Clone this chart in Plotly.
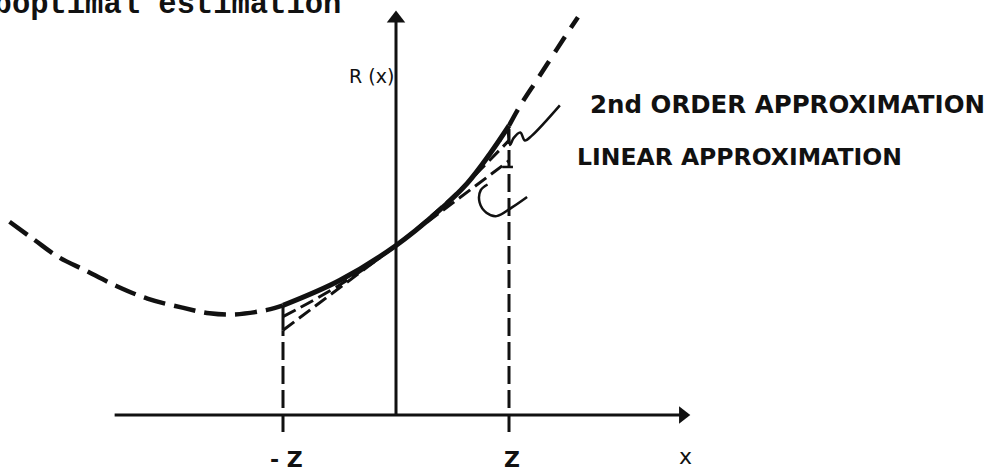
import plotly.graph_objects as go

# ---- data (x in units of Z, y in the same units) ----
Z = 1.0

# risk curve R(x), sampled along its length
risk_x = [-3.42, -3.20, -2.99, -2.75, -2.47, -2.20, -1.89, -1.65, -1.43, -1.14,
          -1.00, -0.50, 0.00, 0.36, 0.63, 0.83, 1.00, 1.10, 1.25, 1.38, 1.51, 1.61]
risk_y = [1.71, 1.55, 1.40, 1.28, 1.14, 1.03, 0.95, 0.90, 0.89, 0.93,
          0.97, 1.19, 1.50, 1.79, 2.05, 2.31, 2.56, 2.74, 2.97, 3.17, 3.37, 3.52]

# second order approximation about x = 0
second_x = [-1.0, -0.5, 0.0, 0.5, 1.0]
second_y = [0.87, 1.15, 1.50, 1.93, 2.43]

# linear approximation about x = 0
linear_x = [-1.0, 1.0]
linear_y = [0.75, 2.25]

# interval end labels
tick_positions = [-Z, Z]
tick_labels = ["- Z", "Z"]

# hand-drawn pointers from the labels to the curves
pointer_second_x = [0.92, 0.98, 1.01, 1.04, 1.10, 1.14, 1.20, 1.45]
pointer_second_y = [2.42, 2.53, 2.39, 2.45, 2.50, 2.43, 2.47, 2.74]
pointer_linear_x = [0.81, 0.75, 0.74, 0.80, 0.89, 1.03, 1.16]
pointer_linear_y = [2.04, 1.99, 1.88, 1.79, 1.76, 1.84, 1.93]

# ---- geometry / styling constants ----
W, H = 1002, 472
PX = 113.0                      # pixels per unit
X0_PX, Y0_PX = 396.0, 415.0     # pixel position of the origin
X_RANGE = [-X0_PX / PX, (W - X0_PX) / PX]
Y_RANGE = [-(H - Y0_PX) / PX, Y0_PX / PX]

X_AXIS_START, X_AXIS_END = -2.49, 2.60
Y_AXIS_END = 3.58
TICK_BOTTOM = -0.15
INK = "#111111"
LABEL_FONT = "DejaVu Sans"

fig = go.Figure()


def line(x, y, width, dash="solid", shape="linear"):
    fig.add_trace(go.Scatter(
        x=x, y=y, mode="lines",
        line=dict(color=INK, width=width, dash=dash, shape=shape, smoothing=1.0),
        hoverinfo="skip", showlegend=False))


# axes
line([X_AXIS_START, X_AXIS_END - 0.05], [0, 0], 3)
line([0, 0], [0, Y_AXIS_END - 0.05], 3)
fig.add_trace(go.Scatter(
    x=[X_AXIS_END - 7 / PX], y=[0], mode="markers",
    marker=dict(symbol="triangle-right", size=15, color=INK),
    hoverinfo="skip", showlegend=False))
fig.add_trace(go.Scatter(
    x=[0], y=[Y_AXIS_END - 8 / PX], mode="markers",
    marker=dict(symbol="triangle-up", size=16, color=INK),
    hoverinfo="skip", showlegend=False))

# vertical markers at -Z and Z
line([-Z, -Z], [linear_y[0], risk_y[risk_x.index(-Z)]], 3)
line([-Z, -Z], [TICK_BOTTOM, linear_y[0]], 3, dash="18px,6px")
line([Z, Z], [TICK_BOTTOM, risk_y[risk_x.index(Z)] - 0.03], 3, dash="18px,6px")

# approximations
line(second_x, second_y, 3, dash="14px,6px", shape="spline")
line(linear_x, linear_y, 3, dash="14px,6px")

# risk curve: dashed outside [-Z, Z], solid inside
left = [(x, y) for x, y in zip(risk_x, risk_y) if x <= -Z]
mid = [(x, y) for x, y in zip(risk_x, risk_y) if -Z <= x <= Z]
right = [(x, y) for x, y in zip(risk_x, risk_y) if x >= Z]
for seg, w, d in [(left, 4.5, "22px,9px"), (mid, 5, "solid"), (right, 4.5, "18px,11px")]:
    line([p[0] for p in seg], [p[1] for p in seg], w, dash=d, shape="spline")

# pointers
line(pointer_second_x, pointer_second_y, 2.5, shape="spline")
line(pointer_linear_x, pointer_linear_y, 2.5, shape="spline")
line([0.94, 1.035], [2.195, 2.195], 2.5)

# text
annotations = [
    dict(x=-0.215, y=3.00, text="R (x)", xanchor="center", yanchor="middle",
         font=dict(family=LABEL_FONT, size=19, color=INK)),
    dict(x=(588 - X0_PX) / PX, y=2.748, text="2nd ORDER APPROXIMATION",
         xanchor="left", yanchor="middle",
         font=dict(family=LABEL_FONT, size=24.5, color=INK, weight=700)),
    dict(x=(575 - X0_PX) / PX, y=2.279, text="LINEAR APPROXIMATION",
         xanchor="left", yanchor="middle",
         font=dict(family=LABEL_FONT, size=23.5, color=INK, weight=700)),
    dict(x=2.566, y=-0.37, text="x", xanchor="center", yanchor="middle",
         font=dict(family=LABEL_FONT, size=22, color=INK)),
]
for pos, lab in zip(tick_positions, tick_labels):
    annotations.append(dict(
        x=pos + 0.03, y=-0.39, text=lab, xanchor="center", yanchor="middle",
        font=dict(family=LABEL_FONT, size=22, color=INK, weight=700)))
for a in annotations:
    a.update(xref="x", yref="y", showarrow=False)

# running header of the page, cut by the top edge
annotations.append(dict(
    xref="paper", yref="paper", x=-45 / W, y=1 - 5 / H,
    text="suboptimal estimation", xanchor="left", yanchor="middle",
    showarrow=False,
    font=dict(family="Liberation Mono", size=30.5, color=INK, weight=700)))

fig.update_layout(
    width=W, height=H,
    margin=dict(l=0, r=0, t=0, b=0),
    paper_bgcolor="white", plot_bgcolor="white",
    xaxis=dict(range=X_RANGE, visible=False, fixedrange=True),
    yaxis=dict(range=Y_RANGE, visible=False, fixedrange=True),
    annotations=annotations,
    hovermode=False,
    showlegend=False,
)

fig.write_html("out.html")
